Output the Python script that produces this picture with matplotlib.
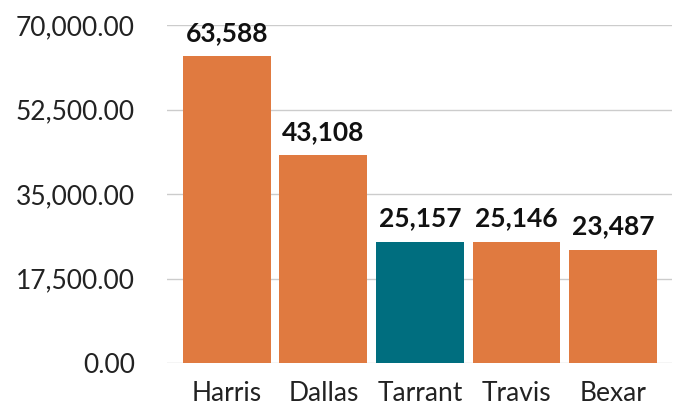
import matplotlib
matplotlib.use("Agg")
import matplotlib.pyplot as plt
from matplotlib.ticker import FuncFormatter

categories = ["Harris", "Dallas", "Tarrant", "Travis", "Bexar"]
values = [63588, 43108, 25157, 25146, 23487]
highlight = "Tarrant"
yticks = [0, 17500, 35000, 52500, 70000]

orange = "#E07A40"
teal = "#006E7F"

plt.rcParams['font.family'] = ['Lato', 'DejaVu Sans']

fig = plt.figure(figsize=(6.78, 4.08), dpi=100)
ax = fig.add_axes([0.2463, 0.1103, 0.7448, 0.8284])

colors = [teal if c == highlight else orange for c in categories]
x = list(range(len(categories)))
bars = ax.bar(x, values, width=0.91, color=colors, zorder=3)

for xi, v in zip(x, values):
    ax.annotate(f"{v:,}", (xi, v), xytext=(0, 8), textcoords="offset points",
                ha="center", va="bottom", fontsize=19, fontweight="bold", color="#111111")

ax.set_xlim(-0.62, 4.61)
ax.set_ylim(0, 70000)
ax.set_yticks(yticks)
ax.yaxis.set_major_formatter(FuncFormatter(lambda v, p: f"{v:,.2f}"))
ax.set_xticks(x)
ax.set_xticklabels(categories)
ax.grid(axis="y", color="#CCCCCC", linewidth=1, zorder=0)
for s in ax.spines.values():
    s.set_visible(False)
ax.tick_params(axis="both", length=0, labelsize=19, labelcolor="#222222")
ax.tick_params(axis="y", pad=23)
ax.tick_params(axis="x", pad=13)

fig.savefig("out.png", dpi=100)
